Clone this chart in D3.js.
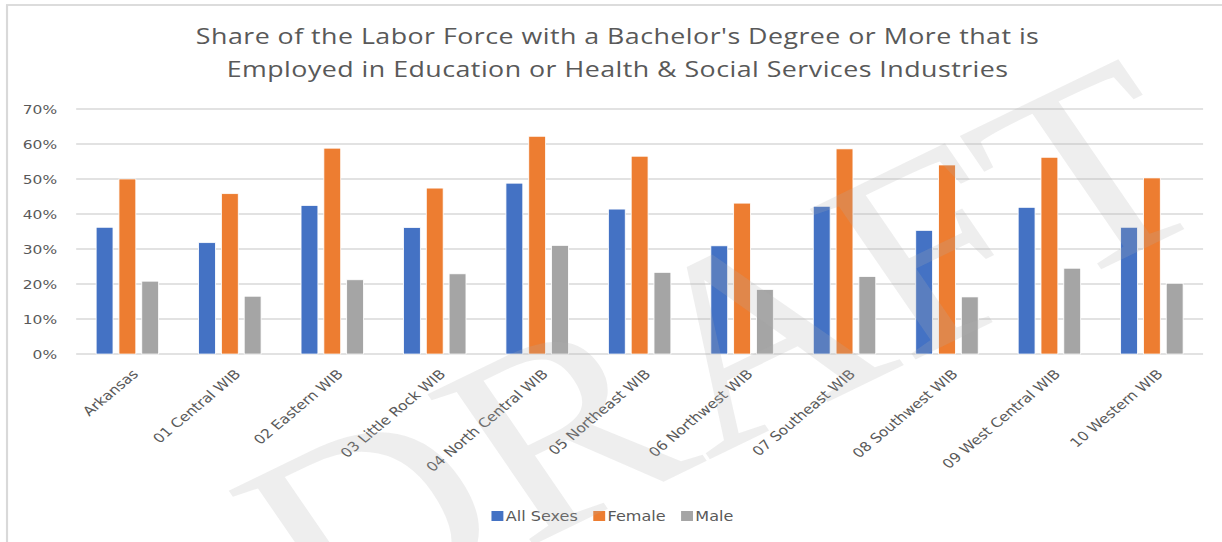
<!DOCTYPE html>
<html>
<head>
<meta charset="utf-8">
<script src="https://cdn.jsdelivr.net/npm/d3@7"></script>
<style>
  body { margin: 0; background: #fff; }
  svg { display: block; }
</style>
</head>
<body>
<svg id="chart"></svg>
<script>
var categories = ["Arkansas", "01 Central WIB", "02 Eastern WIB", "03 Little Rock WIB",
  "04 North Central WIB", "05 Northeast WIB", "06 Northwest WIB", "07 Southeast WIB",
  "08 Southwest WIB", "09 West Central WIB", "10 Western WIB"];
var seriesNames = ["All Sexes", "Female", "Male"];
var allSexes = [0.362, 0.318, 0.424, 0.361, 0.488, 0.414, 0.309, 0.422, 0.353, 0.419, 0.362];
var female = [0.500, 0.458, 0.588, 0.474, 0.622, 0.565, 0.431, 0.586, 0.540, 0.562, 0.503];
var male = [0.208, 0.165, 0.212, 0.229, 0.310, 0.233, 0.184, 0.221, 0.163, 0.245, 0.202];
var yTicks = [0, 0.1, 0.2, 0.3, 0.4, 0.5, 0.6, 0.7];
var colors = ["#4472C4", "#ED7D31", "#A5A5A5"];

var screen = {width: 1222, height: 542};
// the picture is a bit wider than it is tall, draw in narrow units and stretch
var stretch = 1.19;
var W = screen.width / stretch;
var margins = {top: 109, bottom: 188, left: 64, right: W - 1011};
var font = "'DejaVu Sans', sans-serif";

var svg = d3.select("#chart")
  .attr("width", screen.width)
  .attr("height", screen.height);

var root = svg.append("g")
  .attr("transform", "scale(" + stretch + ",1)");

// chart frame (only top and left edges show)
root.append("rect")
  .attr("x", 5.9).attr("y", 5)
  .attr("width", W + 20).attr("height", screen.height + 20)
  .attr("fill", "none")
  .attr("stroke", "#d9d9d9")
  .attr("stroke-width", 1.8);

var xScale = d3.scaleBand()
  .domain(categories)
  .range([margins.left, W - margins.right])
  .paddingInner(0.39)
  .paddingOuter(0.195);

var xSub = d3.scaleBand()
  .domain(seriesNames)
  .range([0, xScale.bandwidth()])
  .paddingInner(0.26);

var yScale = d3.scaleLinear()
  .domain([0, 0.7])
  .range([screen.height - margins.bottom, margins.top]);

// gridlines
root.append("g").selectAll("line")
  .data(yTicks)
  .enter().append("line")
  .attr("x1", margins.left)
  .attr("x2", W - margins.right)
  .attr("y1", function(d) { return yScale(d); })
  .attr("y2", function(d) { return yScale(d); })
  .attr("stroke", "#d9d9d9")
  .attr("stroke-width", 1.4);

var yAxis = d3.axisLeft(yScale)
  .tickValues(yTicks)
  .tickFormat(d3.format(".0%"))
  .tickSize(0)
  .tickPadding(16);

var yg = root.append("g")
  .attr("transform", "translate(" + margins.left + ",0)")
  .call(yAxis);
yg.select(".domain").remove();
yg.selectAll("text")
  .attr("fill", "#595959")
  .style("font-family", font)
  .style("font-size", "13px");

// bars
var table = categories.map(function(c, i) {
  return {cat: c, values: [allSexes[i], female[i], male[i]]};
});

var groups = root.append("g").selectAll("g")
  .data(table)
  .enter().append("g")
  .attr("transform", function(d) { return "translate(" + xScale(d.cat) + ",0)"; });

groups.selectAll("rect")
  .data(function(d) {
    return d.values.map(function(v, j) { return {name: seriesNames[j], v: v, j: j}; });
  })
  .enter().append("rect")
  .attr("x", function(d) { return xSub(d.name); })
  .attr("width", xSub.bandwidth())
  .attr("y", function(d) { return yScale(d.v); })
  .attr("height", function(d) { return yScale(0) - yScale(d.v); })
  .attr("fill", function(d) { return colors[d.j]; })
  .attr("stroke", "#fff")
  .attr("stroke-width", 0.7);

// category labels
root.append("g").selectAll("text")
  .data(categories)
  .enter().append("text")
  .attr("transform", function(d) {
    return "translate(" + (xScale(d) + xScale.bandwidth() / 2 + 3) + "," + 368 + ") rotate(-45)";
  })
  .attr("dy", "0.75em")
  .attr("text-anchor", "end")
  .attr("fill", "#595959")
  .style("font-family", font)
  .style("font-size", "13px")
  .text(function(d) { return d; });

// title
var title = root.append("text")
  .attr("text-anchor", "middle")
  .attr("fill", "#595959")
  .style("font-family", "'Open Sans', sans-serif")
  .style("font-size", "22.5px")
  .style("letter-spacing", "0.4px");
title.append("tspan").attr("x", 519).attr("y", 44)
  .text("Share of the Labor Force with a Bachelor's Degree or More that is");
title.append("tspan").attr("x", 519).attr("y", 77)
  .text("Employed in Education or Health & Social Services Industries");

// legend
var legend = root.append("g");
var lx = 413;
seriesNames.forEach(function(name, j) {
  legend.append("rect")
    .attr("x", lx).attr("y", 511)
    .attr("width", 10).attr("height", 10)
    .attr("fill", colors[j]);
  var t = legend.append("text")
    .attr("x", lx + 12).attr("y", 516)
    .attr("dy", "0.36em")
    .attr("fill", "#595959")
    .style("font-family", font)
    .style("font-size", "13.5px")
    .text(name);
  lx = lx + 12 + t.node().getComputedTextLength() + 13;
});

// DRAFT watermark on top
root.append("text")
  .attr("transform", "translate(273,646) rotate(-30)")
  .attr("fill", "rgb(173,173,173)")
  .attr("fill-opacity", 0.21)
  .style("font-family", "'Liberation Serif', serif")
  .style("font-size", "267px")
  .text("DRAFT");
</script>
</body>
</html>
